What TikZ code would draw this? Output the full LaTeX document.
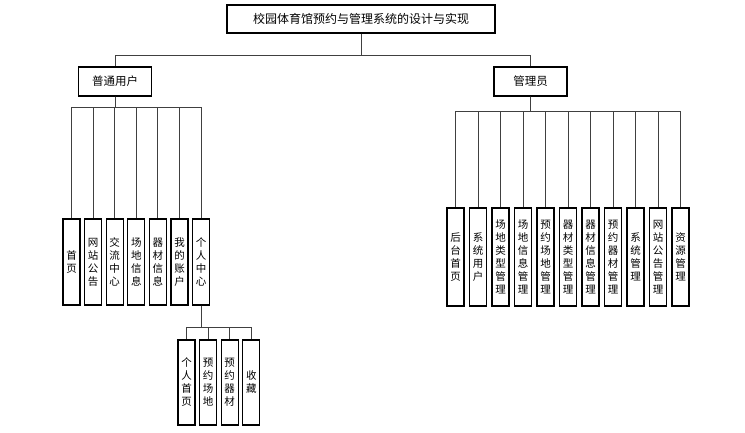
\documentclass[tikz,border=0pt]{standalone}
\usepackage{fontspec}
\setmainfont{Noto Sans CJK SC}
\begin{document}
\begin{tikzpicture}[x=1pt,y=-1pt,
  box/.style={draw=black,line width=1.1pt,inner sep=0pt,font=\fontsize{11.5}{13}\selectfont},
  leaf/.style={box,minimum width=17pt,align=center,font=\fontsize{10.5}{13}\selectfont},
  link/.style={draw=black!75,line width=1pt}]
  \useasboundingbox (0,0) rectangle (745,433);
  \node[box,minimum width=268pt,minimum height=28pt,font=\fontsize{12}{13}\selectfont] (title) at (361,19) {校园体育馆预约与管理系统的设计与实现};
  \node[box,minimum width=73pt,minimum height=29pt] (user) at (115,81.5) {普通用户};
  \node[box,minimum width=73pt,minimum height=29pt] (admin) at (530.5,81.5) {管理员};
  \draw[link] (title.south) -- ++(0,22) -| (user.north);
  \draw[link] (title.south) -- ++(0,22) -| (admin.north);
  % 普通用户
  \node[leaf,minimum height=86pt] (u1) at (71.5,262) {首\\页};
  \node[leaf,minimum height=86pt] (u2) at (93.1,262) {网\\站\\公\\告};
  \node[leaf,minimum height=86pt] (u3) at (114.7,262) {交\\流\\中\\心};
  \node[leaf,minimum height=86pt] (u4) at (136.3,262) {场\\地\\信\\息};
  \node[leaf,minimum height=86pt] (u5) at (157.9,262) {器\\材\\信\\息};
  \node[leaf,minimum height=86pt] (u6) at (179.5,262) {我\\的\\账\\户};
  \node[leaf,minimum height=86pt] (u7) at (201.1,262) {个\\人\\中\\心};
  \foreach \i in {1,...,7}
    \draw[link] (user.south) -- ++(0,11) -| (u\i.north);
  % 个人中心
  \node[leaf,minimum height=85pt] (p1) at (186.5,382.5) {个\\人\\首\\页};
  \node[leaf,minimum height=85pt] (p2) at (208.1,382.5) {预\\约\\场\\地};
  \node[leaf,minimum height=85pt] (p3) at (229.7,382.5) {预\\约\\器\\材};
  \node[leaf,minimum height=85pt] (p4) at (251.3,382.5) {收\\藏};
  \foreach \i in {1,...,4}
    \draw[link] (u7.south) -- ++(0,22) -| (p\i.north);
  % 管理员
  \node[leaf,minimum height=98pt] (a1) at (455.5,257) {后\\台\\首\\页};
  \node[leaf,minimum height=98pt] (a2) at (478,257) {系\\统\\用\\户};
  \node[leaf,minimum height=98pt] (a3) at (500.5,257) {场\\地\\类\\型\\管\\理};
  \node[leaf,minimum height=98pt] (a4) at (523,257) {场\\地\\信\\息\\管\\理};
  \node[leaf,minimum height=98pt] (a5) at (545.5,257) {预\\约\\场\\地\\管\\理};
  \node[leaf,minimum height=98pt] (a6) at (568,257) {器\\材\\类\\型\\管\\理};
  \node[leaf,minimum height=98pt] (a7) at (590.5,257) {器\\材\\信\\息\\管\\理};
  \node[leaf,minimum height=98pt] (a8) at (613,257) {预\\约\\器\\材\\管\\理};
  \node[leaf,minimum height=98pt] (a9) at (635.5,257) {系\\统\\管\\理};
  \node[leaf,minimum height=98pt] (a10) at (658,257) {网\\站\\公\\告\\管\\理};
  \node[leaf,minimum height=98pt] (a11) at (680.5,257) {资\\源\\管\\理};
  \foreach \i in {1,...,11}
    \draw[link] (admin.south) -- ++(0,15) -| (a\i.north);
\end{tikzpicture}
\end{document}
